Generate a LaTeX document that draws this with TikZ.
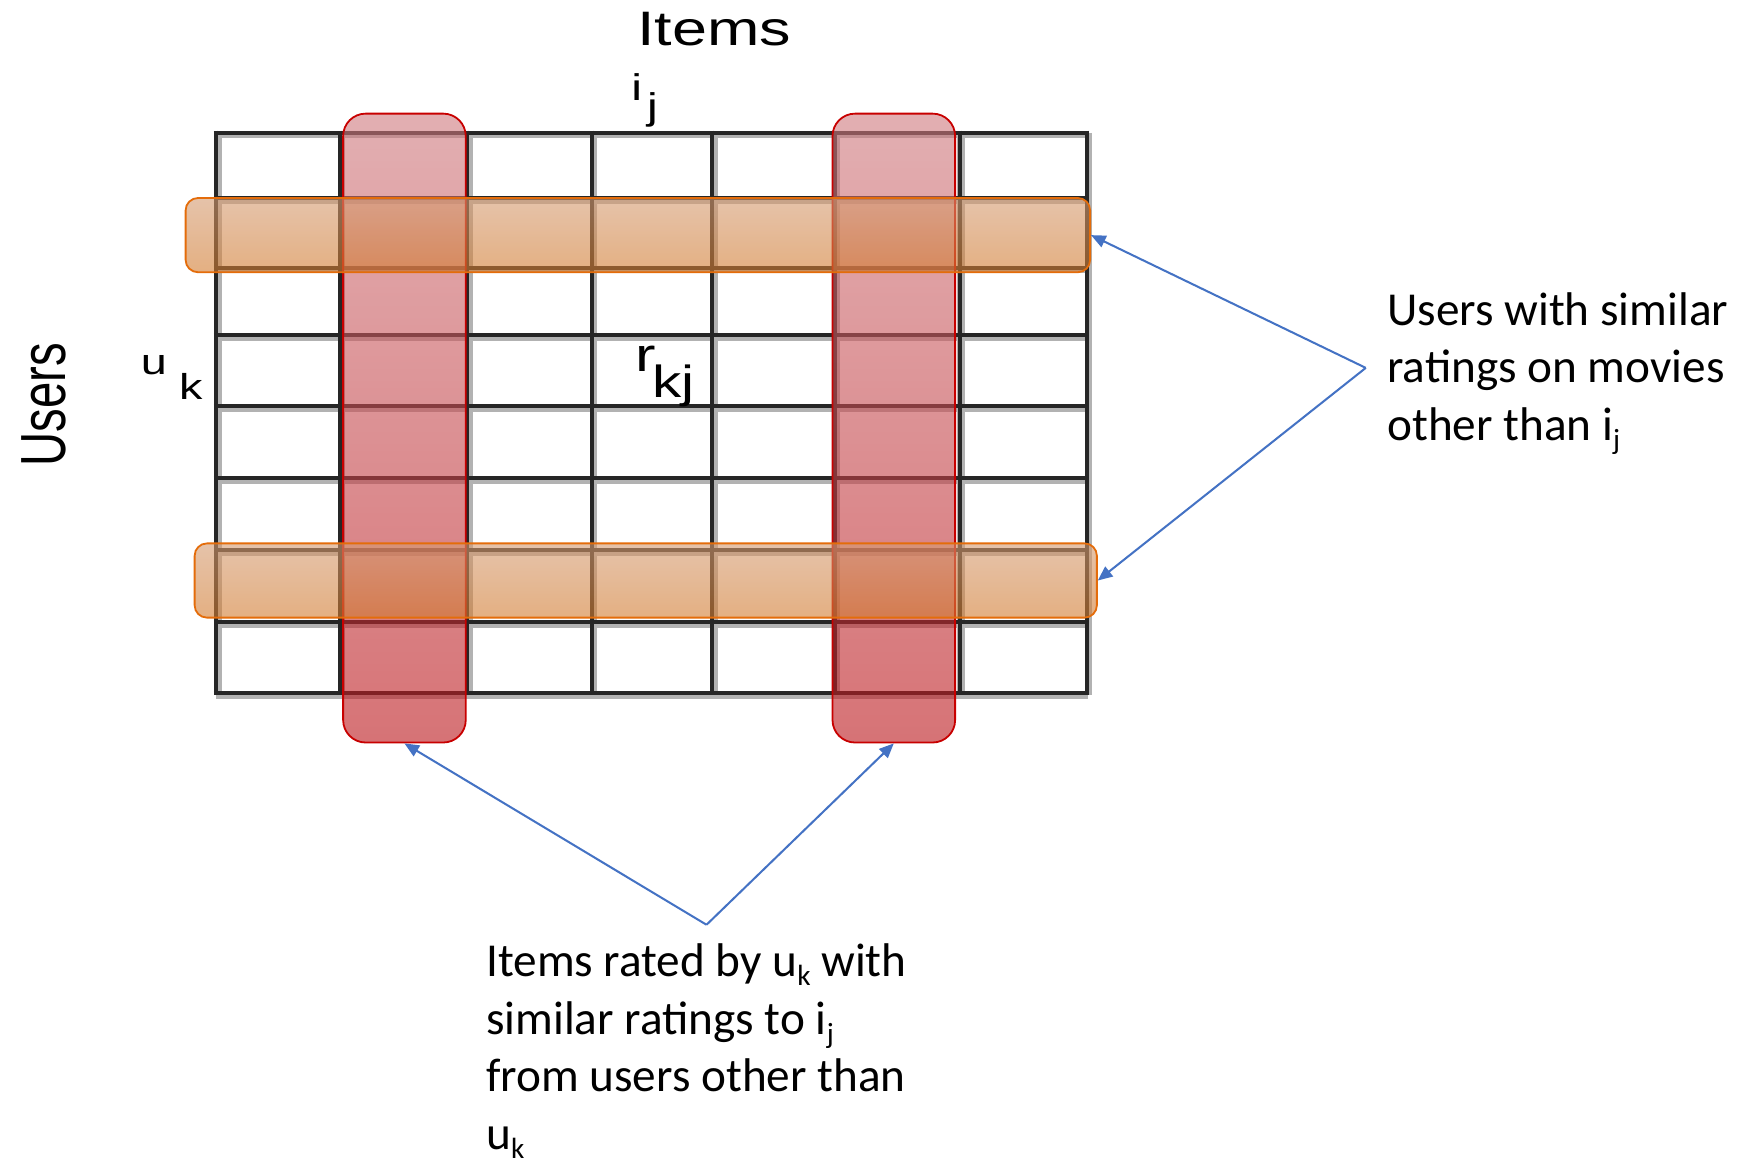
\documentclass[tikz,border=0pt]{standalone}
\usepackage{fontspec}
\setmainfont{Carlito}
\newfontfamily\arialf{Liberation Sans}
\usetikzlibrary{arrows.meta}
\definecolor{arrowblue}{RGB}{68,114,196}
\definecolor{redtop}{RGB}{207,122,127}
\definecolor{redbot}{RGB}{188,22,27}
\definecolor{redline}{RGB}{200,0,0}
\definecolor{orgtop}{RGB}{213,155,113}
\definecolor{orgbot}{RGB}{210,123,47}
\definecolor{orgline}{RGB}{228,108,10}
\newcommand\lsub[1]{\raisebox{-8pt}{\fontsize{26}{26}\selectfont #1}}
\tikzset{
  gridhalo/.style={draw=black!30, line width=7pt},
  gridcore/.style={draw=black!85, line width=3.8pt},
  redbar/.style={rectangle, rounded corners=20pt, top color=redtop, bottom color=redbot,
     fill opacity=0.6, draw=redline, line width=1.6pt, minimum width=109pt, minimum height=559pt, inner sep=0pt},
  orgbar/.style={rectangle, rounded corners=11pt, top color=orgtop, bottom color=orgbot,
     fill opacity=0.6, draw=orgline, line width=1.6pt, minimum height=66pt, inner sep=0pt},
  conn/.style={draw=arrowblue, line width=1.8pt, -{Triangle[length=13pt,width=11pt]}},
  arl/.style={inner sep=0pt, font=\arialf\fontsize{#1}{#1}\selectfont},
  lbl/.style={inner sep=0pt, align=left, font=\fontsize{42}{51}\selectfont}
}
\begin{document}
\begin{tikzpicture}[x=1pt,y=-1pt]
\useasboundingbox (0,0) rectangle (1568,1034);
\fill[white] (0,0) rectangle (1568,1034);
% grid
\foreach \x in {192,302,415,526,633,742,853,966}
  \draw[gridhalo] (\x+1.5,118) -- (\x+1.5,617.5);
\foreach \y in {118,176,238,298,361,425,489,553,616}
  \draw[gridhalo] (192,\y+1.5) -- (967.5,\y+1.5);
\foreach \x in {192,302,415,526,633,742,853,966}
  \draw[gridcore] (\x,116.1) -- (\x,617.9);
\foreach \y in {118,176,238,298,361,425,489,553,616}
  \draw[gridcore] (190.1,\y) -- (967.9,\y);
% red column bars
\node[redbar] (c1) at (359.5,380.5) {};
\node[redbar] (c2) at (794.5,380.5) {};
% orange row bars
\node[orgbar, minimum width=804pt] (r1) at (567,209) {};
\node[orgbar, minimum width=802pt] (r2) at (574,516) {};
% labels on matrix
\node[arl=43, anchor=base] (items) at (635,40) {\scalebox{1.3}[1]{Items}};
\node[arl=42, rotate=90, anchor=base] (users) at (58,360) {\scalebox{1}[1.35]{Users}};
\node[arl=33, anchor=base west] (ilbl) at (561,89) {\scalebox{1.3}[1]{i}};
\node[arl=33, anchor=base west] (jlbl) at (575,106) {\scalebox{1.3}[1]{j}};
\node[arl=32, anchor=base west] (ulbl) at (125,333) {\scalebox{1.3}[1]{u}};
\node[arl=32, anchor=base west] (klbl) at (159,355) {\scalebox{1.3}[1]{k}};
\node[arl=42, anchor=base west] (rlbl) at (565,330) {\scalebox{1.3}[1]{r}};
\node[arl=40, anchor=base west] (kjlbl) at (580,353) {\scalebox{1.3}[1]{kj}};
% explanation texts
\node[lbl, anchor=north west] (rtext) at (1233,260)
  {Users with similar\\ratings on movies\\other than i\lsub{j}};
\node[lbl, anchor=north west] (btext) at (432,839)
  {Items rated by u\lsub{k} with\\similar ratings to i\lsub{j}\\from users other than\\u\lsub{k}};
% connectors
\coordinate (ra) at (1214,327);
\coordinate (ba) at (628,822);
\draw[conn] (ra) -- (r1.east);
\draw[conn] (ra) -- (r2.east);
\draw[conn] (ba) -- (c1.south);
\draw[conn] (ba) -- (c2.south);
\end{tikzpicture}
\end{document}
